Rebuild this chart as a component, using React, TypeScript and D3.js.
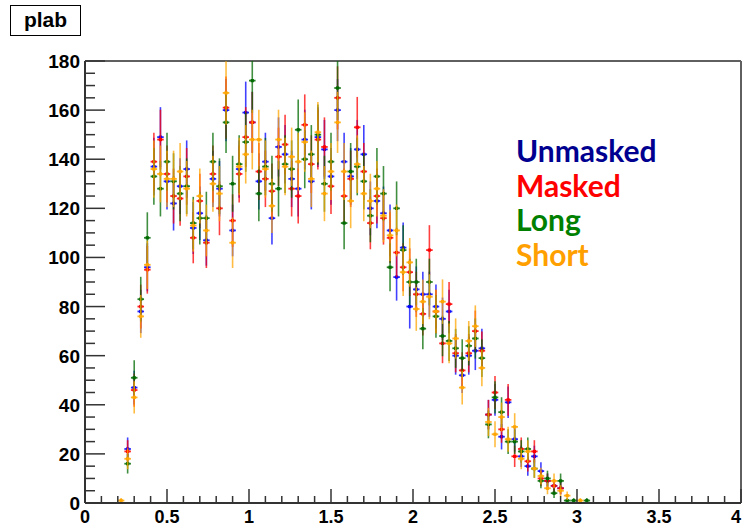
import React from "react";
import * as d3 from "d3";

// Histogram bin centres (bin width 0.04) that hold entries
const binCenters = [
  0.22, 0.26, 0.3, 0.34, 0.38, 0.42, 0.46, 0.5, 0.54, 0.58, 0.62, 0.66, 0.7, 0.74, 0.78, 0.82,
  0.86, 0.9, 0.94, 0.98, 1.02, 1.06, 1.1, 1.14, 1.18, 1.22, 1.26, 1.3, 1.34, 1.38, 1.42, 1.46,
  1.5, 1.54, 1.58, 1.62, 1.66, 1.7, 1.74, 1.78, 1.82, 1.86, 1.9, 1.94, 1.98, 2.02, 2.06, 2.1,
  2.14, 2.18, 2.22, 2.26, 2.3, 2.34, 2.38, 2.42, 2.46, 2.5, 2.54, 2.58, 2.62, 2.66, 2.7, 2.74,
  2.78, 2.82, 2.86, 2.9, 2.94, 2.98, 3.02, 3.06,
];
const binWidth = 0.04;

const unmasked = [
  0, 22, 47, 78, 96, 137, 149, 131, 122, 129, 136, 112, 118, 107, 132, 128,
  160, 111, 136, 159, 155, 131, 139, 116, 145, 142, 132, 128, 148, 131, 149, 144,
  133, 160, 139, 133, 144, 142, 120, 123, 118, 111, 92, 104, 80, 87, 85, 85,
  80, 75, 78, 60, 52, 60, 62, 63, 36, 42, 27, 41, 26, 19, 15, 19,
  13, 9, 7, 6, 0, 0, 0, 0,
];
const masked = [
  0, 21, 46, 80, 95, 139, 148, 134, 125, 124, 133, 108, 123, 106, 134, 120,
  161, 115, 134, 149, 155, 135, 132, 127, 141, 146, 128, 125, 154, 138, 148, 145,
  129, 165, 125, 132, 153, 135, 114, 125, 116, 108, 102, 96, 94, 85, 77, 103,
  78, 65, 81, 61, 54, 61, 70, 62, 36, 45, 30, 42, 19, 22, 17, 21,
  10, 9, 7, 6, 0, 0, 0, 0,
];
const long = [
  0, 16, 51, 83, 108, 133, 128, 139, 131, 126, 129, 114, 116, 116, 139, 129,
  155, 130, 138, 147, 172, 126, 137, 130, 128, 138, 136, 152, 140, 142, 150, 130,
  139, 169, 114, 135, 137, 131, 117, 133, 126, 96, 120, 103, 90, 90, 71, 90,
  76, 68, 66, 63, 59, 64, 67, 59, 32, 43, 37, 25, 25, 21, 22, 14,
  9, 10, 4, 9, 1, 1, 0, 1,
];
const short = [
  1, 18, 43, 76, 97, 136, 134, 132, 132, 135, 128, 113, 125, 111, 130, 126,
  167, 106, 137, 142, 148, 148, 136, 121, 148, 137, 141, 139, 147, 132, 151, 126,
  135, 155, 135, 123, 138, 126, 123, 128, 117, 109, 111, 94, 98, 79, 82, 84,
  78, 82, 65, 67, 47, 66, 72, 55, 33, 28, 35, 26, 31, 18, 21, 14,
  11, 6, 9, 5, 3, 0, 1, 0,
];

const seriesNames = ["Unmasked", "Masked", "Long", "Short"];
const markColors = ["#0000ff", "#ff0000", "#006a00", "#ffa500"];
const legendColors = ["#000090", "#ff0000", "#008000", "#ffa000"];

const xTicks = [0, 0.5, 1, 1.5, 2, 2.5, 3, 3.5, 4];
const yTicks = [0, 20, 40, 60, 80, 100, 120, 140, 160, 180];

const W = 744;
const H = 527;

export default function App() {
  const x = d3.scaleLinear().domain([0, 4]).range([85, 741]);
  const y = d3.scaleLinear().domain([0, 180]).range([503, 61]);
  const seriesValues = [unmasked, masked, long, short];
  const halfBin = (x(binWidth) - x(0)) / 2;

  const xMinor = d3.range(0, 4.0001, 0.1);
  const yMinor = d3.range(0, 180.0001, 5);

  const axisFont = "'Liberation Sans', Arial, sans-serif";

  return (
    <div style={{ position: "fixed", left: 0, top: 0, width: W, height: H, overflow: "hidden", background: "#fff" }}>
      <svg width={W} height={H} viewBox={`0 0 ${W} ${H}`}>
        <defs>
          <clipPath id="frameClip">
            <rect x={x(0)} y={y(180)} width={x(4) - x(0)} height={y(0) - y(180)} />
          </clipPath>
        </defs>
        <rect x={0} y={0} width={W} height={H} fill="#fff" />

        {/* frame */}
        <line x1={x(0)} x2={x(4)} y1={y(180)} y2={y(180)} stroke="#606060" strokeWidth={2} />
        <line x1={x(4)} x2={x(4)} y1={y(180)} y2={y(0)} stroke="#606060" strokeWidth={2} />

        {/* data: error bars, bin-width bars and markers */}
        <g clipPath="url(#frameClip)">
          {seriesValues.map((vals, si) => (
            <g key={seriesNames[si]}>
              {vals.map((v, i) => {
                if (v <= 0) return null;
                const cx = x(binCenters[i]);
                const err = Math.sqrt(v);
                const cy = y(v);
                return (
                  <g key={i}>
                    <line x1={cx} x2={cx} y1={y(v + err)} y2={y(Math.max(0, v - err))}
                      stroke={markColors[si]} strokeWidth={1.6} strokeOpacity={0.75} />
                    <line x1={cx - halfBin} x2={cx + halfBin} y1={cy} y2={cy}
                      stroke={markColors[si]} strokeWidth={1.8} strokeOpacity={0.85} />
                    <rect x={cx - 1.6} y={cy - 1.6} width={3.2} height={3.2} fill={markColors[si]} />
                  </g>
                );
              })}
            </g>
          ))}
        </g>

        {/* y axis */}
        <line x1={x(0)} x2={x(0)} y1={y(180)} y2={y(0)} stroke="#333" strokeWidth={2} />
        {yMinor.map((t) => {
          const major = Math.abs(t % 20) < 1e-6;
          return (
            <line key={"ym" + t} x1={x(0)} x2={x(0) + (major ? 20 : 10)} y1={y(t)} y2={y(t)}
              stroke="#333" strokeWidth={1.5} />
          );
        })}
        {yTicks.map((t) => (
          <text key={"yl" + t} x={80} y={y(t) + 7} textAnchor="end" fontFamily={axisFont}
            fontWeight="bold" fontSize={19} fill="#000">{t}</text>
        ))}

        {/* x axis */}
        <line x1={x(0)} x2={x(4)} y1={y(0)} y2={y(0)} stroke="#333" strokeWidth={2} />
        {xMinor.map((t, i) => {
          const major = i % 5 === 0;
          return (
            <line key={"xm" + i} x1={x(t)} x2={x(t)} y1={y(0)} y2={y(0) - (major ? 14 : 7)}
              stroke="#333" strokeWidth={1.5} />
          );
        })}
        {xTicks.map((t) => (
          <text key={"xl" + t} x={Math.min(x(t), 736)} y={523} textAnchor="middle" fontFamily={axisFont}
            fontWeight="bold" fontSize={18} fill="#000">{String(t)}</text>
        ))}

        {/* title box */}
        <rect x={10.5} y={5.5} width={70} height={30} fill="#fff" stroke="#000" strokeWidth={1} />
        <text x={45.5} y={27} textAnchor="middle" fontFamily={axisFont} fontWeight="bold" fontSize={21} fill="#000">plab</text>

        {/* series labels */}
        {seriesNames.map((name, i) => (
          <text key={name} x={516} y={162 + i * 34.5} fontFamily="Lato, 'Open Sans', sans-serif"
            fontWeight="bold" fontSize={30} fill={legendColors[i]}>{name}</text>
        ))}
      </svg>
    </div>
  );
}
